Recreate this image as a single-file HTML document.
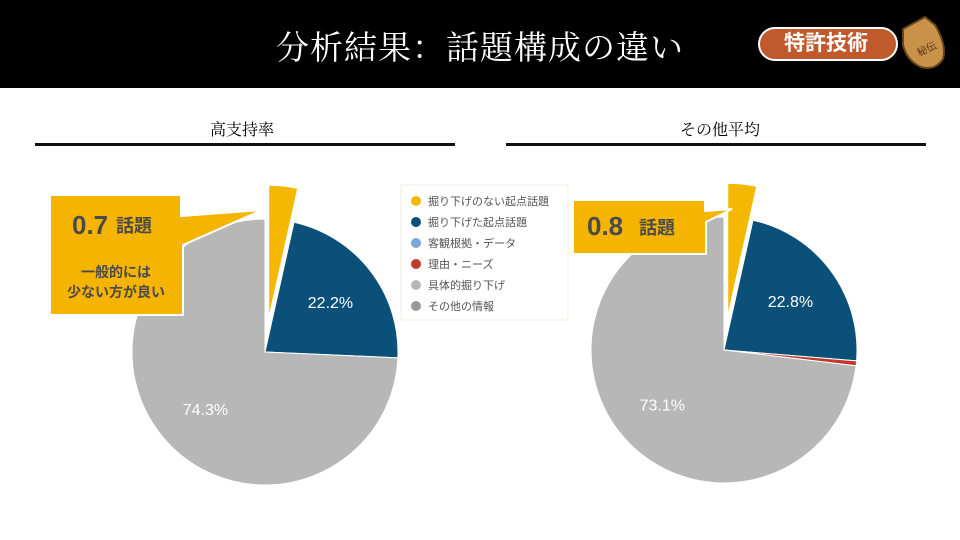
<!DOCTYPE html>
<html><head><meta charset="utf-8"><style>
body{margin:0;width:960px;height:540px;overflow:hidden;background:#fff;font-family:"Liberation Sans","Noto Sans CJK JP",sans-serif;}
#hdr{position:absolute;left:0;top:0;width:960px;height:88px;background:#000;}
#title{position:absolute;left:0;width:960px;top:22px;text-align:center;color:#fff;font-family:"Liberation Serif","Noto Serif CJK SC",serif;font-size:33px;letter-spacing:1px;}
#badge{position:absolute;left:758px;top:27px;width:140px;height:34px;border-radius:17px;background:#c05a2c;border:2px solid #fff;box-sizing:border-box;color:#fff;font-weight:bold;font-size:21px;line-height:30px;padding-left:24px;}
.sub{position:absolute;font-family:"Liberation Serif","Noto Serif CJK SC",serif;font-size:16px;top:117px;}
.rule{position:absolute;top:143px;height:3px;background:#111;}
</style></head><body>
<div id="hdr"></div>
<div id="title">分析結果：話題構成の違い</div>
<div id="badge">特許技術</div>
<svg style="position:absolute;left:895px;top:15px" width="55" height="58">
<path d="M8 14 L30 2 L40 10 Q52 30 48 44 Q40 56 26 52 Q12 46 8 30 Z" fill="#c8924a" stroke="#6b4518" stroke-width="2"/>
<text x="22" y="40" font-size="10" fill="#5a3510" transform="rotate(-25 26 36)">秘伝</text>
</svg>
<div class="sub" style="left:210px">高支持率</div>
<div class="rule" style="left:35px;width:420px"></div>
<div class="sub" style="left:680px">その他平均</div>
<div class="rule" style="left:506px;width:420px"></div>
<svg id="chart" style="position:absolute;left:0;top:0" width="960" height="540"></svg>
<script>
const categories=["掘り下げのない起点話題","掘り下げた起点話題","客観根拠・データ","理由・ニーズ","具体的掘り下げ","その他の情報"];
const colors=["#f5b800","#0b5078","#7aa6d8","#c0392b","#b7b7b7","#999999"];
const leftValues=[3.5,22.2,0,0,74.3,0];
const rightValues=[3.5,22.8,0,0.6,73.1,0];
const leftLabels=["","22.2%","","","74.3%",""];
const rightLabels=["","22.8%","","","73.1%",""];
const svg=document.getElementById('chart');
const NS="http://www.w3.org/2000/svg";
function mk(t,a){const e=document.createElementNS(NS,t);for(const k in a)e.setAttribute(k,a[k]);svg.appendChild(e);return e;}
function pt(cx,cy,r,f){const a=f*2*Math.PI;return [cx+r*Math.sin(a),cy-r*Math.cos(a)];}
function pie(cx,cy,r,vals,labels,side){
  const tot=vals.reduce((a,b)=>a+b,0);let acc=0;
  vals.forEach((v,i)=>{
    if(v<=0)return;
    const f0=acc/tot,f1=(acc+v)/tot;acc+=v;
    let ox=0,oy=0;
    if(i===0){const m=pt(0,0,34,(f0+f1)/2);ox=m[0];oy=m[1];}
    const p0=pt(cx+ox,cy+oy,r,f0),p1=pt(cx+ox,cy+oy,r,f1);
    const large=(f1-f0)>0.5?1:0;
    const p=mk('path',{d:`M${cx+ox},${cy+oy} L${p0[0]},${p0[1]} A${r},${r} 0 ${large} 1 ${p1[0]},${p1[1]} Z`,fill:colors[i],stroke:'#fff','stroke-width':1});
    
    
    if(labels[i]){const lp=pt(cx,cy,r*0.62,(f0+f1)/2);
      const t=mk('text',{x:lp[0],y:lp[1]+6,'text-anchor':'middle','font-size':16,fill:'#fff'});t.textContent=labels[i];
      
      }
  });
}
pie(265,352,133,leftValues,leftLabels,'left');
pie(724,350,133,rightValues,rightLabels,'right');
// legend
const lg=mk('rect',{x:401,y:185,width:167,height:135,fill:'#fff',stroke:'#f3ece0'});


categories.forEach((c,i)=>{
  const y=201+i*21;
  const d=mk('circle',{cx:416,cy:y,r:5,fill:colors[i]});
  
  
  const t=mk('text',{x:428,y:y+4,'font-size':11,fill:'#555'});t.textContent=c;
  
  
});
// callouts
const c1=mk('path',{d:'M50,195 L181,195 L181,216 L262,210 L183,245 L183,315 L50,315 Z',fill:'#f5b400',stroke:'#fff','stroke-width':2});


const c2=mk('path',{d:'M573,200 L705,200 L705,211 L732,209 L706,222 L706,254 L573,254 Z',fill:'#f5b400',stroke:'#fff','stroke-width':2});


function txt(x,y,s,sz,name,anchor){const t=mk('text',{x:x,y:y,'font-size':sz,'font-weight':'bold',fill:'#4a4a4a','text-anchor':anchor||'start'});t.textContent=s;
  
  return t;}
txt(72,234,'0.7',26,'left-callout-value');
txt(116,232,'話題',18,'left-callout-unit');
txt(116,277,'一般的には',14,'left-callout-note-1','middle');
txt(116,297,'少ない方が良い',14,'left-callout-note-2','middle');
txt(587,235,'0.8',26,'right-callout-value');
txt(639,234,'話題',18,'right-callout-unit');
</script>
</body></html>
